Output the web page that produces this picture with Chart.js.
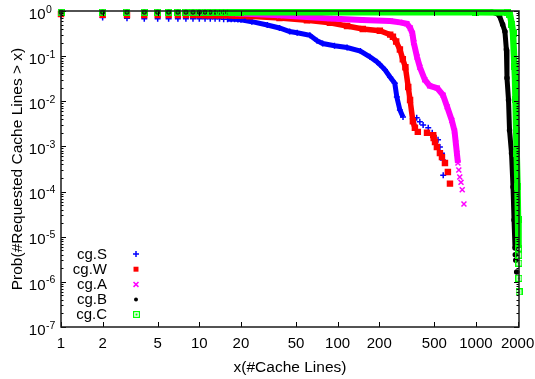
<!DOCTYPE html>
<html>
<head>
<meta charset="utf-8">
<script src="https://cdn.jsdelivr.net/npm/chart.js@4.4.1/dist/chart.umd.min.js"></script>
<style>
  html, body { margin: 0; padding: 0; background: #fff; }
  canvas { display: block; }
</style>
</head>
<body>
<canvas id="cdf" width="535" height="379"></canvas>
<script>
// axis ticks
const xTicks = [1, 2, 5, 10, 20, 50, 100, 200, 500, 1000, 2000];
const yDecades = [0, -1, -2, -3, -4, -5, -6, -7];

// cg.S
const cgS_x = [1, 2, 3, 4, 5, 6, 7, 8, 9, 10, 11, 12, 13, 14, 15, 16, 17, 18, 19, 20,
  24, 31, 38, 45, 51, 63, 71, 78, 95, 117, 146, 171, 192, 202, 220, 240, 259, 268, 282, 297,
  373, 393, 415, 452, 483, 532, 549, 568, 577, 580];
const cgS_p = [0.78, 0.72, 0.69, 0.67, 0.67, 0.67, 0.67, 0.67, 0.67, 0.67, 0.67, 0.67, 0.67, 0.67, 0.66, 0.66, 0.66, 0.66, 0.65, 0.64,
  0.58, 0.49, 0.42, 0.35, 0.33, 0.29, 0.22, 0.19, 0.17, 0.155, 0.13, 0.097, 0.075, 0.065, 0.05, 0.034, 0.025, 0.0124, 0.0064, 0.0045,
  0.0043, 0.0035, 0.0030, 0.0026, 0.0020, 0.0014, 0.00097, 0.00071, 0.0005, 0.00023];

// cg.W
const cgW_x = [1, 2, 3, 4, 5, 6, 7, 8, 9, 10, 11, 12, 13, 14, 15, 16, 17, 18, 19, 20,
  23, 38, 60, 88, 117, 152, 202, 240, 251, 265, 282, 296, 309, 324, 334, 350, 362,
  380, 443, 491, 495, 506, 522, 549, 568, 597, 627, 649];
const cgW_p = [0.86, 0.82, 0.81, 0.81, 0.81, 0.81, 0.81, 0.81, 0.81, 0.81, 0.80, 0.80, 0.80, 0.80, 0.80, 0.80, 0.80, 0.79, 0.79, 0.79,
  0.76, 0.70, 0.62, 0.55, 0.465, 0.40, 0.366, 0.30, 0.27, 0.21, 0.14, 0.085, 0.057, 0.0207, 0.0107, 0.0036, 0.0026,
  0.0021, 0.0020, 0.00178, 0.00153, 0.00125, 0.00097, 0.00071, 0.00058, 0.00043, 0.00027, 0.00015];

// cg.A
const cgA_x = [1, 2, 3, 4, 5, 6, 7, 8, 9, 10, 11, 12, 13, 14, 15, 16, 17, 18, 19, 20,
  38, 88, 150, 240, 282, 317, 335, 347, 355, 375, 393, 427, 463, 525, 578, 620, 669, 700, 715, 728, 741,
  752, 764, 780, 796, 819];
const cgA_p = [0.95, 0.93, 0.93, 0.93, 0.93, 0.93, 0.93, 0.93, 0.93, 0.93, 0.92, 0.92, 0.91, 0.91, 0.90, 0.90, 0.89, 0.89, 0.88, 0.88,
  0.80, 0.68, 0.63, 0.60, 0.56, 0.52, 0.42, 0.32, 0.20, 0.096, 0.057, 0.030, 0.022, 0.0196, 0.0137, 0.0075, 0.0038, 0.0022, 0.0012, 0.00071, 0.00043,
  0.00030, 0.00021, 0.00016, 0.00011, 0.000053];

// cg.B
const cgB_x = [1, 2, 3, 4, 5, 6, 7, 8, 9, 10, 11, 12, 13, 14, 15, 16, 17, 18, 19, 20,
  1000, 1300, 1420, 1480, 1560, 1620, 1660, 1677, 1720, 1749, 1808, 1854, 1885, 1917,
  1925, 1940, 1970];
const cgB_p = [0.95, 0.95, 0.95, 0.95, 0.95, 0.95, 0.95, 0.95, 0.95, 0.95, 0.95, 0.95, 0.95, 0.95, 0.95, 0.95, 0.95, 0.95, 0.95, 0.95,
  0.95, 0.95, 0.88, 0.78, 0.5, 0.35, 0.14, 0.0326, 0.0107, 0.00229, 0.00071, 0.000127, 0.0000236, 0.0000056,
  0.000004, 0.000003, 0.00000165];

// cg.C
const cgC_x = [1, 2, 3, 4, 5, 6, 7, 8, 9, 10, 11, 12, 13, 14, 15, 16, 17, 18, 19, 20,
  1000, 1700, 1760, 1820, 1854, 1900, 1917, 1933, 1955, 1970, 1998, 2015, 2032,
  2038, 2042, 2045, 2048];
const cgC_p = [0.94, 0.94, 0.94, 0.94, 0.94, 0.94, 0.94, 0.94, 0.94, 0.94, 0.94, 0.94, 0.94, 0.94, 0.94, 0.94, 0.94, 0.94, 0.94, 0.94,
  0.94, 0.93, 0.85, 0.5, 0.325, 0.06, 0.0326, 0.0107, 0.0023, 0.00071, 0.000127, 0.0000236, 0.0000056,
  0.0000039, 0.0000026, 0.0000012, 0.0000006];

const FONT = "'Liberation Sans', Arial, sans-serif";

const toPoints = (xs, ps) => xs.map((x, i) => ({ x: x, y: ps[i] }));

function boxMark(color) {
  const c = document.createElement('canvas');
  c.width = 7; c.height = 7;
  const g = c.getContext('2d');
  g.strokeStyle = color;
  g.lineWidth = 1.2;
  g.strokeRect(0.6, 0.6, 5.8, 5.8);
  g.fillStyle = color;
  g.fillRect(2.5, 2.5, 2, 2);
  return c;
}

// dense part of each curve is drawn as a thick band, the rest as single marks
function series(label, xs, ps, color, style, radius, bandWidth, from, to, order) {
  return {
    label: label,
    data: toPoints(xs, ps),
    order: order,
    showLine: true,
    borderColor: color,
    backgroundColor: color,
    borderWidth: bandWidth,
    pointStyle: style,
    pointRadius: radius,
    pointBorderWidth: 1.5,
    pointBorderColor: color,
    pointBackgroundColor: color,
    clip: false,
    segment: {
      borderColor: c => (c.p0.parsed.x >= from && c.p1.parsed.x <= to) ? color : 'rgba(0,0,0,0)'
    }
  };
}

function drawMark(ctx, ds, x, y) {
  const s = ds.pointStyle, r = ds.pointRadius;
  ctx.save();
  ctx.strokeStyle = ds.pointBorderColor;
  ctx.fillStyle = ds.pointBackgroundColor;
  ctx.lineWidth = ds.pointBorderWidth;
  ctx.beginPath();
  if (s instanceof HTMLCanvasElement) {
    ctx.drawImage(s, Math.round(x - s.width / 2), Math.round(y - s.height / 2));
  } else if (s === 'cross') {
    ctx.moveTo(x - r, y); ctx.lineTo(x + r, y);
    ctx.moveTo(x, y - r); ctx.lineTo(x, y + r);
    ctx.stroke();
  } else if (s === 'crossRot') {
    const d = r * Math.SQRT1_2;
    ctx.moveTo(x - d, y - d); ctx.lineTo(x + d, y + d);
    ctx.moveTo(x - d, y + d); ctx.lineTo(x + d, y - d);
    ctx.stroke();
  } else if (s === 'rect') {
    const d = r * Math.SQRT1_2;
    ctx.fillRect(x - d, y - d, 2 * d, 2 * d);
  } else {
    ctx.arc(x, y, r, 0, Math.PI * 2);
    ctx.fill();
  }
  ctx.restore();
}

const gnuplotFrame = {
  id: 'gnuplotFrame',
  afterDatasetsDraw(chart) {
    const { ctx, chartArea: a, scales: { x, y } } = chart;
    ctx.save();
    ctx.strokeStyle = '#000';
    ctx.lineWidth = 1;
    const seg = (x0, y0, x1, y1) => { ctx.beginPath(); ctx.moveTo(x0, y0); ctx.lineTo(x1, y1); ctx.stroke(); };

    yDecades.forEach(e => {
      for (let m = 1; m < 10; m++) {
        if (e === 0 && m > 1) break;
        const py = Math.round(y.getPixelForValue(m * Math.pow(10, e))) + 0.5;
        const len = m === 1 ? 5 : 2.5;
        seg(a.left, py, a.left + len, py);
        seg(a.right, py, a.right - len, py);
      }
    });
    xTicks.forEach(v => {
      const px = Math.round(x.getPixelForValue(v)) + 0.5;
      seg(px, a.bottom, px, a.bottom - 5);
      seg(px, a.top, px, a.top + 5);
    });

    ctx.lineWidth = 1.5;
    ctx.strokeStyle = '#1a1a1a';
    ctx.strokeRect(a.left, a.top, a.right - a.left, a.bottom - a.top);
    ctx.restore();
  },
  afterDraw(chart) {
    const { ctx, chartArea: a, scales: { x, y } } = chart;
    ctx.save();
    ctx.fillStyle = '#000';

    // y tick labels 10^e
    yDecades.forEach(e => {
      const py = y.getPixelForValue(Math.pow(10, e));
      ctx.font = '15px ' + FONT;
      ctx.textAlign = 'right';
      ctx.textBaseline = 'alphabetic';
      ctx.fillText('10', 45.5, py + 7.7);
      ctx.font = '10.5px ' + FONT;
      ctx.textAlign = 'left';
      ctx.fillText(String(e), 46, py + 1.5);
    });

    // x tick labels
    ctx.font = '15px ' + FONT;
    ctx.textAlign = 'center';
    xTicks.forEach(v => {
      ctx.fillText(String(v), x.getPixelForValue(v), 347.5);
    });

    // axis titles
    ctx.font = '15.5px ' + FONT;
    ctx.fillText('x(#Cache Lines)', (a.left + a.right) / 2, 371.7);
    ctx.save();
    ctx.translate(21.7, (a.top + a.bottom) / 2);
    ctx.rotate(-Math.PI / 2);
    ctx.fillText('Prob(#Requested Cache Lines > x)', 0, 0);
    ctx.restore();

    // key, bottom left inside the plot
    const sets = chart.data.datasets;
    ctx.font = '15px ' + FONT;
    ctx.textAlign = 'right';
    sets.forEach((ds, i) => {
      const ry = 254 + i * 15.2;
      ctx.fillText(ds.label, 107, ry + 4.5);
      drawMark(ctx, ds, 136, ry);
    });
    ctx.restore();
  }
};

new Chart(document.getElementById('cdf'), {
  type: 'scatter',
  data: {
    datasets: [
      series('cg.S', cgS_x, cgS_p, '#0000ff', 'cross', 3, 5, 16, 297, 5),
      series('cg.W', cgW_x, cgW_p, '#ff0000', 'rect', 3.5, 5.5, 16, 362, 4),
      series('cg.A', cgA_x, cgA_p, '#ff00ff', 'crossRot', 3.5, 6, 16, 741, 3),
      series('cg.B', cgB_x, cgB_p, '#000000', 'circle', 2, 5, 16, 1917, 2),
      series('cg.C', cgC_x, cgC_p, '#00ff00', boxMark('#00ff00'), 3.5, 6.5, 16, 2032, 1)
    ]
  },
  options: {
    responsive: false,
    animation: false,
    devicePixelRatio: 1,
    events: [],
    layout: { padding: { left: 0, right: 16, top: 11, bottom: 0 } },
    plugins: { legend: { display: false }, tooltip: { enabled: false } },
    scales: {
      x: {
        type: 'logarithmic',
        min: 1,
        max: 2048,
        ticks: { display: false },
        grid: { display: false },
        border: { display: false },
        afterFit: s => { s.height = 52; }
      },
      y: {
        type: 'logarithmic',
        min: 1e-7,
        max: 1,
        ticks: { display: false },
        grid: { display: false },
        border: { display: false },
        afterFit: s => { s.width = 61; }
      }
    }
  },
  plugins: [gnuplotFrame]
});
</script>
</body>
</html>
